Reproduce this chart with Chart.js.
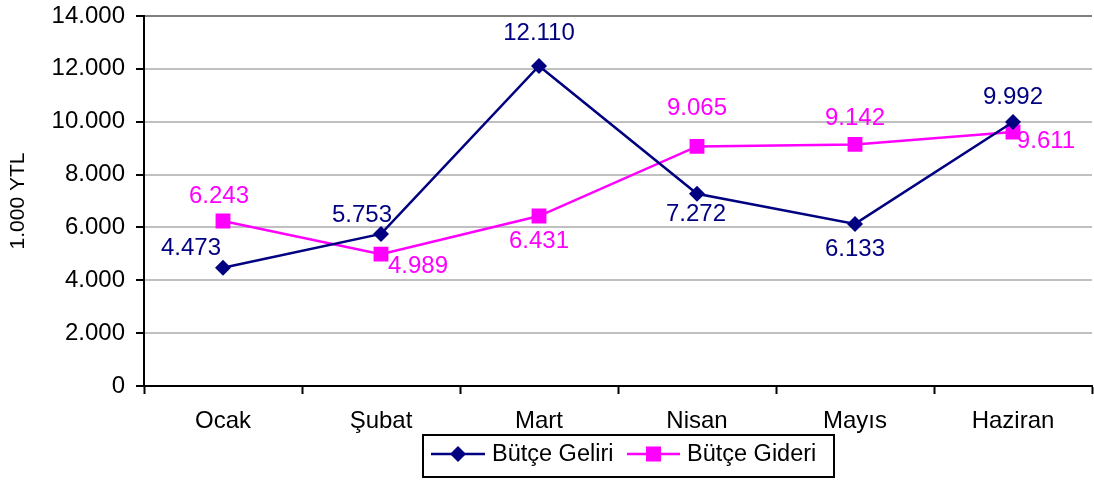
<!DOCTYPE html>
<html>
<head>
<meta charset="utf-8">
<script src="https://cdn.jsdelivr.net/npm/chart.js@4"></script>
<style>
  html, body { margin: 0; padding: 0; background: #fff; }
  #wrap { width: 1094px; height: 480px; }
</style>
</head>
<body>
<div id="wrap"><canvas id="chart" width="1094" height="480"></canvas></div>
<script>
// Data
const months = ["Ocak", "Şubat", "Mart", "Nisan", "Mayıs", "Haziran"];
const geliri = [4473, 5753, 12110, 7272, 6133, 9992];
const gideri = [6243, 4989, 6431, 9065, 9142, 9611];
const yTicks = [0, 2000, 4000, 6000, 8000, 10000, 12000, 14000];

// label offsets (from marker centre)
const geliriOffsets = [[-32, -19], [-19, -19], [0, -33], [-1, 21], [0, 25], [0, -25]];
const gideriOffsets = [[-4, -25], [37, 12], [0, 25], [0, -38], [0, -26], [33, 9]];

const FONT = '"Liberation Sans", Arial, sans-serif';
const NAVY = "#000080";
const MAGENTA = "#ff00ff";

const fmt = (v) => String(v).replace(/\B(?=(\d{3})+(?!\d))/g, ".");

const valueLabels = {
  id: "valueLabels",
  afterDatasetsDraw(chart) {
    const ctx = chart.ctx;
    ctx.save();
    ctx.font = "24px " + FONT;
    ctx.textAlign = "center";
    ctx.textBaseline = "middle";
    chart.data.datasets.forEach((ds, i) => {
      const meta = chart.getDatasetMeta(i);
      const offs = i === 0 ? geliriOffsets : gideriOffsets;
      ctx.fillStyle = ds.borderColor;
      meta.data.forEach((pt, j) => {
        ctx.fillText(fmt(ds.data[j]), pt.x + offs[j][0], pt.y + offs[j][1]);
      });
    });
    ctx.restore();
  },
};

const legendBox = {
  id: "legendBox",
  afterDraw(chart) {
    const ctx = chart.ctx;
    ctx.save();
    ctx.strokeStyle = "#000";
    ctx.lineWidth = 2;
    ctx.strokeRect(423, 435, 411, 42);
    const cy = 454;
    ctx.font = "23.5px " + FONT;
    ctx.textBaseline = "middle";
    ctx.textAlign = "left";
    // Bütçe Geliri
    ctx.strokeStyle = NAVY;
    ctx.lineWidth = 2.5;
    ctx.beginPath();
    ctx.moveTo(431, cy);
    ctx.lineTo(485, cy);
    ctx.stroke();
    ctx.fillStyle = NAVY;
    ctx.beginPath();
    ctx.moveTo(458, cy - 8);
    ctx.lineTo(466, cy);
    ctx.lineTo(458, cy + 8);
    ctx.lineTo(450, cy);
    ctx.closePath();
    ctx.fill();
    ctx.fillStyle = "#000";
    ctx.fillText("Bütçe Geliri", 492, cy + 1);
    // Bütçe Gideri
    ctx.strokeStyle = MAGENTA;
    ctx.beginPath();
    ctx.moveTo(627, cy);
    ctx.lineTo(680, cy);
    ctx.stroke();
    ctx.fillStyle = MAGENTA;
    ctx.fillRect(646, cy - 7.5, 15, 15);
    ctx.fillStyle = "#000";
    ctx.fillText("Bütçe Gideri", 687, cy + 1);
    ctx.restore();
  },
};

new Chart(document.getElementById("chart"), {
  type: "line",
  data: {
    labels: months,
    datasets: [
      {
        label: "Bütçe Geliri",
        data: geliri,
        borderColor: NAVY,
        backgroundColor: NAVY,
        borderWidth: 2.5,
        pointStyle: "rectRot",
        pointRadius: 8,
        pointBorderWidth: 0,
        tension: 0,
      },
      {
        label: "Bütçe Gideri",
        data: gideri,
        borderColor: MAGENTA,
        backgroundColor: MAGENTA,
        borderWidth: 2.5,
        pointStyle: "rect",
        pointRadius: 10.5,
        pointBorderWidth: 0,
        tension: 0,
      },
    ],
  },
  options: {
    responsive: false,
    animation: false,
    layout: { autoPadding: false, padding: { top: 16, right: 2, left: 0, bottom: 0 } },
    plugins: {
      legend: { display: false },
      tooltip: { enabled: false },
    },
    scales: {
      x: {
        offset: true,
        grid: {
          offset: true,
          drawOnChartArea: false,
          tickLength: 8,
          tickColor: "#000",
          tickWidth: 2,
        },
        border: { color: "#000", width: 2 },
        ticks: {
          color: "#000",
          font: { family: FONT, size: 24 },
          padding: 13,
        },
        afterFit(scale) {
          scale.height = 94;
          scale.paddingLeft = 0;
          scale.paddingRight = 0;
        },
      },
      y: {
        min: 0,
        max: 14000,
        afterBuildTicks(scale) {
          scale.ticks = yTicks.map((v) => ({ value: v }));
        },
        grid: {
          color: (c) => (c.tick && c.tick.value === 14000 ? "#808080" : "#c0c0c0"),
          lineWidth: 2,
          tickLength: 8,
          tickColor: "#000",
          tickWidth: 2,
        },
        border: { color: "#000", width: 2 },
        ticks: {
          color: "#000",
          font: { family: FONT, size: 24 },
          padding: 11,
          callback: (v) => fmt(v),
        },
        title: {
          display: true,
          text: "1.000 YTL",
          color: "#000",
          font: { family: FONT, size: 21 },
          padding: { top: 6, bottom: 0 },
        },
        afterFit(scale) {
          scale.width = 144;
          scale.paddingTop = 0;
          scale.paddingBottom = 0;
        },
      },
    },
  },
  plugins: [valueLabels, legendBox],
});
</script>
</body>
</html>
